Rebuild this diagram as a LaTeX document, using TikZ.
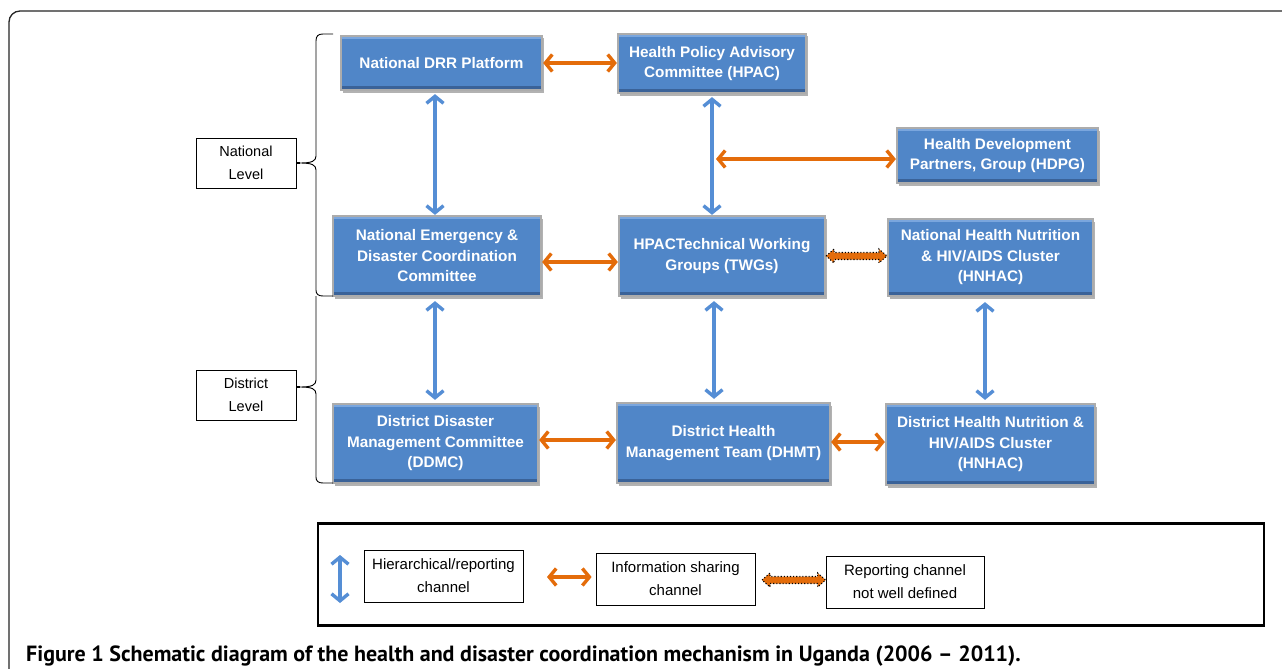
\documentclass[tikz,border=0pt]{standalone}
\usepackage{fontspec}
\setmainfont{Liberation Sans}
\newfontfamily\capfont{PT Sans}
\usetikzlibrary{arrows.meta,shadows,calc}
\definecolor{boxblue}{RGB}{80,134,200}
\definecolor{boxdark}{RGB}{58,98,152}
\definecolor{boxlight}{RGB}{122,166,222}
\definecolor{boxgray}{RGB}{172,172,172}
\definecolor{orangec}{RGB}{228,108,10}
\definecolor{bluec}{RGB}{85,142,213}
\tikzset{
  bbox/.style={rectangle, fill=boxblue, draw=boxgray, line width=2.2pt, text=white,
    font=\fontsize{15.3}{20.5}\selectfont\bfseries, align=center, inner sep=0pt,
    drop shadow={shadow xshift=2pt, shadow yshift=-2.5pt, fill=black, opacity=0.3},
    path picture={
      \fill[boxdark] (path picture bounding box.south west) rectangle ([yshift=4pt]path picture bounding box.south east);
      \fill[boxlight] ([yshift=-3pt]path picture bounding box.north west) rectangle (path picture bounding box.north east);
    }},
  lvl/.style={rectangle, draw=black, line width=0.8pt, fill=white, align=center,
    font=\fontsize{14.5}{23}\selectfont, inner sep=0pt},
  leg/.style={rectangle, draw=black, line width=0.8pt, fill=white, align=center,
    font=\fontsize{15}{23}\selectfont, inner sep=0pt},
  tip/.style={Straight Barb[length=7pt,width=17pt,line width=3.4pt]},
  orarr/.style={draw=orangec, line width=3.2pt, {Straight Barb[length=7pt,width=17pt,line width=3.4pt]}-{Straight Barb[length=7pt,width=17pt,line width=3.4pt]}},
  blarr/.style={draw=bluec, line width=3.2pt, {Straight Barb[length=7pt,width=17pt,line width=3.4pt]}-{Straight Barb[length=7pt,width=17pt,line width=3.4pt]}},
  brace/.style={draw=black, line width=0.9pt},
}
\newcommand\dotarr[2]{%
  \fill[orangec] ($(#1)$) -- ($(#1)+(8,-7)$) -- ($(#1)+(8,-3.5)$) -- ($(#2)+(-8,-3.5)$) -- ($(#2)+(-8,-7)$) -- ($(#2)$) -- ($(#2)+(-8,7)$) -- ($(#2)+(-8,3.5)$) -- ($(#1)+(8,3.5)$) -- ($(#1)+(8,7)$) -- cycle;
  \draw[black, line width=1.1pt, dotted] ($(#1)$) -- ($(#1)+(8,-7)$) -- ($(#1)+(8,-3.5)$) -- ($(#2)+(-8,-3.5)$) -- ($(#2)+(-8,-7)$) -- ($(#2)$) -- ($(#2)+(-8,7)$) -- ($(#2)+(-8,3.5)$) -- ($(#1)+(8,3.5)$) -- ($(#1)+(8,7)$) -- cycle;}
\begin{document}
\begin{tikzpicture}[x=1pt,y=-1pt]
\useasboundingbox (0,0) rectangle (1282,669);
\fill[white] (0,0) rectangle (1282,669);
% outer frame
\draw[line width=1.3pt, black!85, rounded corners=11pt] (9,669) -- (9,11) -- (1282,11);

% boxes
\node[bbox, minimum width=201pt, minimum height=54pt] (drr) at (441.5,63) {National DRR Platform};
\node[bbox, minimum width=188pt, minimum height=59pt] (hpac) at (712,63.5) {Health Policy Advisory\\Committee (HPAC)};
\node[bbox, minimum width=201pt, minimum height=55pt] (hdpg) at (997.5,155.5) {Health Development\\Partners, Group (HDPG)};
\node[bbox, minimum width=208pt, minimum height=80pt] (nedcc) at (437,256) {National Emergency \&\\Disaster Coordination\\Committee};
\node[bbox, minimum width=206pt, minimum height=80pt] (twg) at (722,256) {HPACTechnical Working\\Groups (TWGs)};
\node[bbox, minimum width=205pt, minimum height=77pt] (nhn) at (990.5,257.5) {National Health Nutrition\\\& HIV/AIDS Cluster\\(HNHAC)};
\node[bbox, minimum width=205pt, minimum height=79pt] (ddmc) at (435.5,443.5) {District Disaster\\Management Committee\\(DDMC)};
\node[bbox, minimum width=213pt, minimum height=80pt] (dhmt) at (723.5,443) {District Health\\Management Team (DHMT)};
\node[bbox, minimum width=209pt, minimum height=81pt] (dhn) at (990.5,444.5) {District Health Nutrition \&\\HIV/AIDS Cluster\\(HNHAC)};

% level labels
\node[lvl, minimum width=100pt, minimum height=50pt] (natl) at (246,163) {National\\Level};
\node[lvl, minimum width=100pt, minimum height=50pt] (dist) at (246,395) {District\\Level};

% braces
\coordinate (nt) at (300,163);
\coordinate (dt) at (300,387);
\draw[brace] (333,34) -- (323,34) .. controls (318,34) and (316,36) .. (316,41) -- (316,156)
  .. controls (316,161) and (312,163) .. (nt) .. controls (312,163) and (316,165) .. (316,170)
  -- (316,290) .. controls (316,294) and (318,296) .. (323,296) -- (333,296);
\draw[brace] (316,296) -- (316,380) .. controls (316,385) and (312,387) .. (dt)
  .. controls (312,387) and (316,389) .. (316,394) -- (316,477)
  .. controls (316,481) and (318,483) .. (323,483) -- (333,483);
\draw[black, line width=1.6pt] (natl.east |- nt) -- (nt);
\draw[black, line width=1.6pt] (dist.east |- dt) -- (dt);

% helper coordinates
\coordinate (x1) at (435,0);
\coordinate (x2) at (714,0);
\coordinate (x3) at (985,0);
\coordinate (hx) at (716,159);
\coordinate (y1) at (0,262);
\coordinate (y2) at (0,440);
\coordinate (y3) at (0,442);

% connectors
\draw[orarr] (drr.east) -- (hpac.west |- drr.east);
\draw[blarr] ([yshift=-3pt]drr.south -| x1) -- (nedcc.north -| x1);
\draw[blarr] ([yshift=-3pt]hpac.south) -- (hpac.south |- twg.north);
\draw[orarr] (hx) -- (hx -| hdpg.west);
\draw[orarr] (nedcc.east |- y1) -- (twg.west |- y1);
\coordinate (da) at (twg.east);
\coordinate (db) at (twg.east -| nhn.west);
\dotarr{da}{db}
\draw[blarr] ([yshift=-4pt]nedcc.south -| x1) -- ([yshift=3pt]ddmc.north -| x1);
\draw[blarr] ([yshift=-4pt]twg.south -| x2) -- ([yshift=3pt]dhmt.north -| x2);
\draw[blarr] ([yshift=-5pt]nhn.south -| x3) -- ([yshift=3pt]dhn.north -| x3);
\draw[orarr] (ddmc.east |- y2) -- (dhmt.west |- y2);
\draw[orarr] (dhmt.east |- y3) -- (dhn.west |- y3);

% legend
\node[draw=black, line width=2.8pt, minimum width=946pt, minimum height=102pt, inner sep=0pt] (legend) at (791,574.5) {};
\node[leg, minimum width=159pt, minimum height=52pt] (l1) at (443.5,576) {Hierarchical/reporting\\channel};
\node[leg, minimum width=159pt, minimum height=52pt] (l2) at (675.5,579) {Information sharing\\channel};
\node[leg, minimum width=158pt, minimum height=52pt] (l3) at (905,582) {Reporting channel\\not well defined};
\coordinate (la) at (340,555);
\coordinate (lb) at (340,603);
\draw[blarr] (la) -- (lb);
\coordinate (lo) at (547,577);
\draw[orarr] (lo) -- ([xshift=-4pt]l2.west |- lo);
\coordinate (ld) at (762,580);
\coordinate (le) at (l3.west |- ld);
\dotarr{ld}{le}

% caption
\node[anchor=base west, inner sep=0pt, font=\capfont\fontsize{22}{24}\selectfont\bfseries] (cap) at (26,661)
  {Figure 1 Schematic diagram of the health and disaster coordination mechanism in Uganda (2006 – 2011).};
\end{tikzpicture}
\end{document}
